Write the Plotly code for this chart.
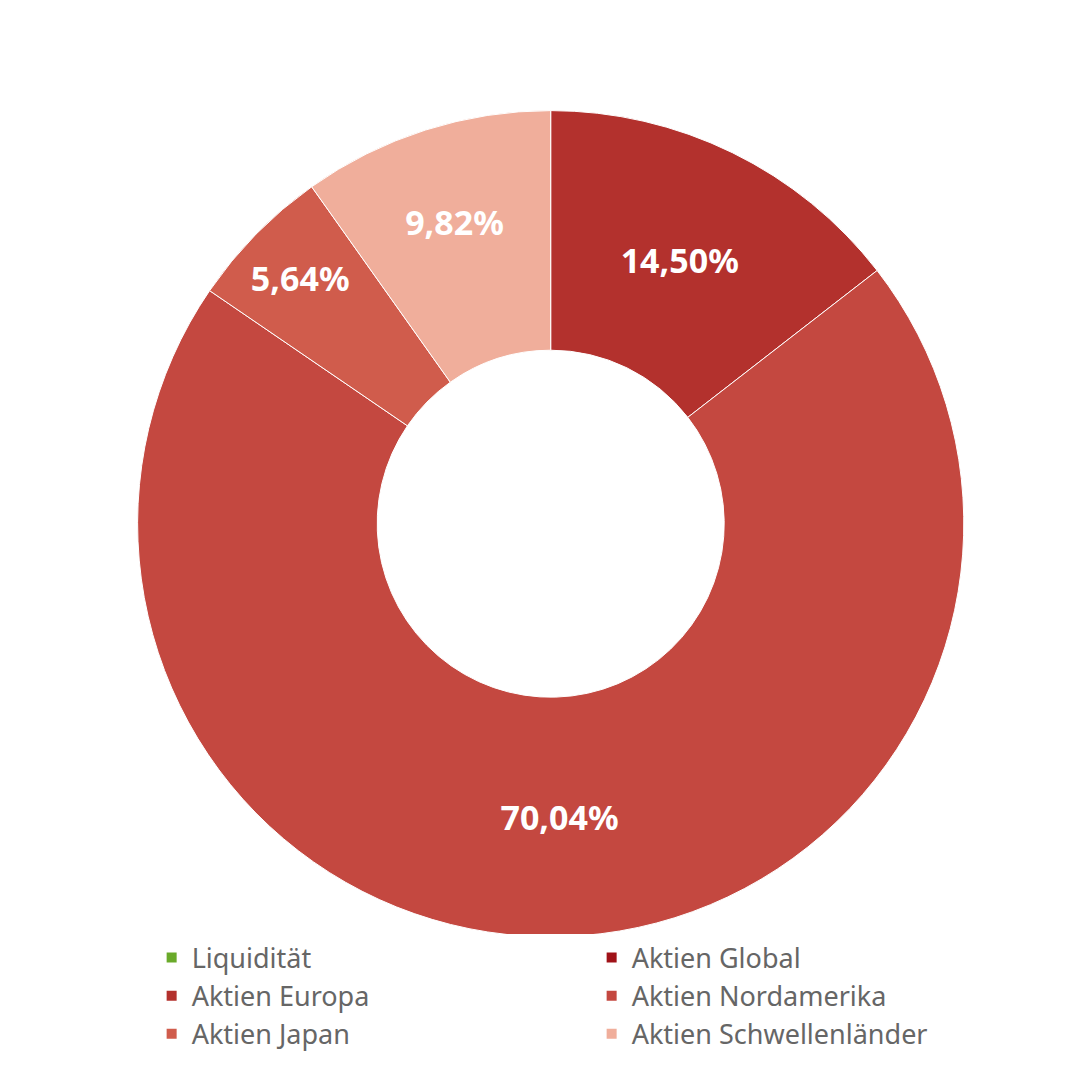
import plotly.graph_objects as go

labels = ["Liquidität", "Aktien Global", "Aktien Europa", "Aktien Nordamerika", "Aktien Japan", "Aktien Schwellenländer"]
values = [0.0, 0.0, 14.50, 70.04, 5.64, 9.82]
text_labels = ["", "", "14,50%", "70,04%", "5,64%", "9,82%"]
colors = ["#6aaa2a", "#a01218", "#b3312d", "#c44840", "#d05c4c", "#f0ae9b"]

fig = go.Figure(go.Pie(
    labels=labels, values=values, text=text_labels, textinfo="text",
    sort=False, direction="clockwise", rotation=0, hole=0.42,
    marker=dict(colors=colors, line=dict(color="white", width=1)),
    textfont=dict(color="white", size=34, family="Noto Sans", weight="bold"),
    insidetextorientation="horizontal",
    domain=dict(x=[0.12, 0.885], y=[0.138, 0.907]),
))
fig.update_layout(
    width=1080, height=1080, margin=dict(l=0, r=0, t=0, b=0),
    paper_bgcolor="white", font=dict(family="Noto Sans"),
    legend=dict(orientation="h", x=0.133, y=0.143, xanchor="left", yanchor="top",
                entrywidth=395, entrywidthmode="pixels", itemsizing="constant",
                font=dict(size=27, color="#666666"), tracegroupgap=0),
)
fig.write_html("out.html")
